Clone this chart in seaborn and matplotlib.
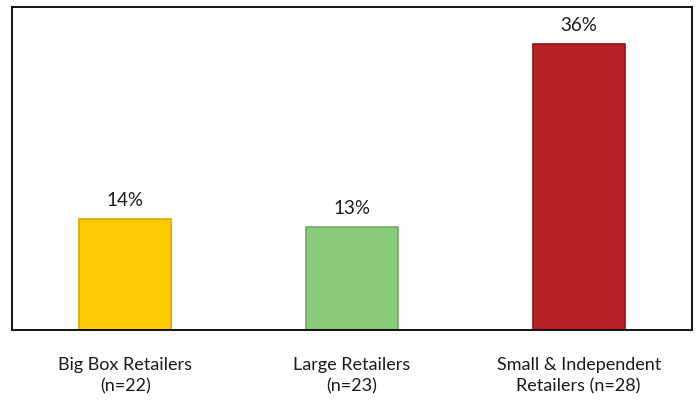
import matplotlib
matplotlib.use("Agg")
import matplotlib.pyplot as plt
import seaborn as sns
import pandas as pd

categories = ["Big Box Retailers\n(n=22)", "Large Retailers\n(n=23)", "Small & Independent\nRetailers (n=28)"]
values = [14, 13, 36]
labels = ["14%", "13%", "36%"]
colors = ["#FFCB05", "#88CA7A", "#B72025"]
edge_colors = ["#D9A800", "#6FAE62", "#8E1518"]

sns.set_theme(style="white")
plt.rcParams['font.family'] = ['Lato', 'DejaVu Sans']

df = pd.DataFrame({"cat": categories, "val": values})

fig = plt.figure(figsize=(6.96, 4.02), dpi=100)
ax = fig.add_axes([12/696, 1 - 331/402, 680/696, 323/402])
sns.barplot(data=df, x="cat", y="val", hue="cat", palette=colors, legend=False,
            width=0.405, ax=ax, saturation=1)
for p, ec in zip(ax.patches, edge_colors):
    p.set_edgecolor(ec)
    p.set_linewidth(1.2)
for i, (v, t) in enumerate(zip(values, labels)):
    ax.text(i, v + 1.3, t, ha="center", va="bottom", fontsize=13.5, color="#1a1a1a")
ax.set_ylim(0, 40.6)
ax.set_xlim(-0.5, 2.5)
ax.set_yticks([])
ax.set_xlabel("")
ax.set_ylabel("")
ax.tick_params(axis="x", length=0, pad=19, labelsize=13, colors="#1a1a1a")
for lbl in ax.get_xticklabels():
    lbl.set_linespacing(1.35)
for s in ax.spines.values():
    s.set_visible(True)
    s.set_color("black")
    s.set_linewidth(1.3)
fig.savefig("out.png", dpi=100)
